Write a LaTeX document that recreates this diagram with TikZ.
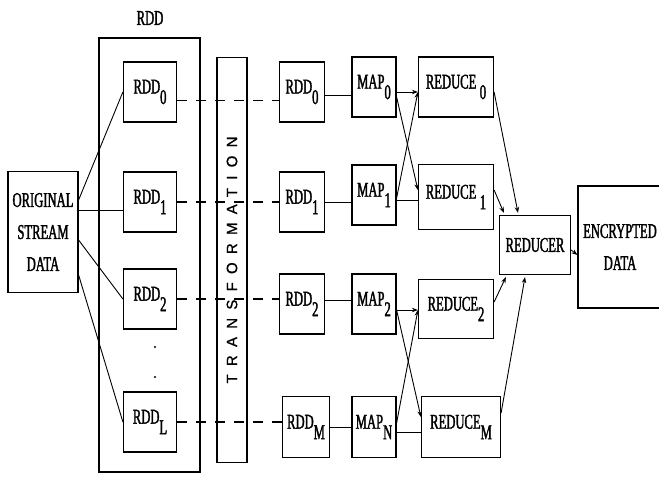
\documentclass[tikz,border=0pt]{standalone}
\usepackage{fontspec}
\usepackage{tikz}
\usetikzlibrary{arrows.meta, positioning, calc}
\setmainfont{Liberation Serif}[FakeStretch=0.6, FakeBold=1.6]
\newfontfamily\transfont{Liberation Sans}[LetterSpace=55, FakeBold=1]
\newcommand{\idx}[1]{\raisebox{-0.5em}{#1}}

\begin{document}
\begin{tikzpicture}[x=1pt, y=-1pt,
  box/.style={draw, line width=1.2pt, inner sep=0pt, align=center, font=\fontsize{21}{32}\selectfont},
  rddbox/.style={box, minimum width=53pt, minimum height=60pt},
  copybox/.style={box, minimum width=45pt, minimum height=60pt},
  mapbox/.style={box, minimum width=44pt, minimum height=60pt},
  redbox/.style={box, minimum width=75pt, minimum height=60pt},
  dot/.style={circle, fill, inner sep=0pt, minimum size=2.2pt},
  link/.style={line width=0.9pt},
  flow/.style={line width=0.9pt, -{Stealth[length=6pt, width=4.5pt]}},
  gap/.style={line width=1.1pt, dash pattern=on 10pt off 9pt}
]
\useasboundingbox (0,0) rectangle (659,478);

\node[font=\fontsize{21}{22}\selectfont] (rddtitle) at (150,18) {RDD};
\node[box, minimum width=101pt, minimum height=434pt] (rddgroup) at (149.5,255) {};
\node[rddbox] (ra0) at (150,92) {RDD\idx{0}};
\node[rddbox] (ra1) at (150,202) {RDD\idx{1}};
\node[rddbox] (ra2) at (150,299) {RDD\idx{2}};
\node[rddbox] (raL) at (150,422) {RDD\idx{L}};
\node[dot] (dot1) at (155,347) {};
\node[dot] (dot2) at (155,377) {};

\node[box, minimum width=70pt, minimum height=121pt] (orig) at (43,232) {ORIGINAL\\STREAM\\DATA};

\node[box, minimum width=30pt, minimum height=405pt] (trans) at (232,260) {};
\node[rotate=90, font=\transfont\fontsize{15}{16}\selectfont] (translabel) at (trans.center) {TRANSFORMATION};

\node[copybox] (rb0) at (302,92) {RDD\idx{0}};
\node[copybox] (rb1) at (302,202) {RDD\idx{1}};
\node[copybox] (rb2) at (302,304) {RDD\idx{2}};
\node[copybox, minimum width=47pt, minimum height=61pt] (rbM) at (306,427) {RDD\idx{M}};

\node[mapbox] (map0) at (374,87) {MAP\idx{0}};
\node[mapbox] (map1) at (374,195) {MAP\idx{1}};
\node[mapbox] (map2) at (374,304) {MAP\idx{2}};
\node[mapbox, minimum height=61pt] (mapN) at (374,427) {MAP\idx{N}};

\node[redbox] (red0) at (456,87) {REDUCE\,\idx{0}};
\node[redbox, minimum height=65pt] (red1) at (456,197) {REDUCE\,\idx{1}};
\node[redbox, minimum height=59pt] (red2) at (456,309) {REDUCE\idx{2}};
\node[redbox, minimum width=79pt, minimum height=61pt] (redM) at (461,427) {REDUCE\idx{M}};

\node[box, minimum width=71pt, minimum height=59pt] (reducer) at (535,245) {REDUCER};
\node[box, minimum width=84pt, minimum height=122pt] (enc) at (620,247) {ENCRYPTED\\DATA};

\draw[link] ($(orig.east)+(0,-32)$) -- (ra0.west);
\draw[link] ($(orig.east)+(0,-22)$) -- ($(ra1.west)+(0,8)$);
\draw[link] ($(orig.east)+(0,8)$) -- (ra2.west);
\draw[link] ($(orig.east)+(0,43)$) -- (raL.west);

\draw[gap, line width=0.8pt] ($(ra0.east)+(0,8)$) -- ($(rb0.west)+(0,8)$);
\draw[gap] (ra1.east) -- (ra1.east -| rb1.west);
\draw[gap] (ra2.east) -- (ra2.east -| rb2.west);
\draw[gap] (raL.east) -- (raL.east -| rbM.west);

\draw[link] ($(rb0.east)+(0,3)$) -- ($(rb0.east -| map0.west)+(0,3)$);
\draw[link] (rb1.east) -- (rb1.east -| map1.west);
\draw[link] ($(rb2.east)+(0,-4)$) -- ($(rb2.east -| map2.west)+(0,-4)$);
\draw[link] (rbM.east) -- (rbM.east -| mapN.west);

\draw[flow] ($(map0.east)+(0,5)$) -- ($(red0.west)+(0,5)$);
\draw[flow] ($(map0.east)+(0,10)$) -- ($(red1.west)+(0,-7)$);
\draw[flow] ($(map1.east)+(0,3)$) -- ($(red0.west)+(0,5)$);
\draw[link] ($(map1.east)+(0,5)$) -- ($(red1.west)+(0,3)$);

\draw[flow] ($(map2.east)+(0,6)$) -- ($(red2.west)+(0,1)$);
\draw[flow] ($(map2.east)+(0,6)$) -- ($(redM.west)+(0,-10)$);
\draw[flow] ($(mapN.east)+(0,-4)$) -- ($(red2.west)+(0,1)$);
\draw[link] ($(mapN.east)+(0,5)$) -- ($(redM.west)+(0,5)$);

\draw[flow] ($(red0.east)+(0,5)$) -- ($(reducer.north)+(-17,-2)$);
\draw[flow] ($(red1.east)+(0,-7)$) -- ($(reducer.north west)+(5,-2)$);
\draw[flow] ($(red2.east)+(0,-7)$) -- ($(reducer.south west)+(7,2)$);
\draw[flow] ($(redM.east)+(0,-14)$) -- ($(reducer.south)+(-10,2)$);
\draw[flow] ($(reducer.east)+(0,5)$) -- ($(enc.west)+(0,8)$);
\end{tikzpicture}
\end{document}
